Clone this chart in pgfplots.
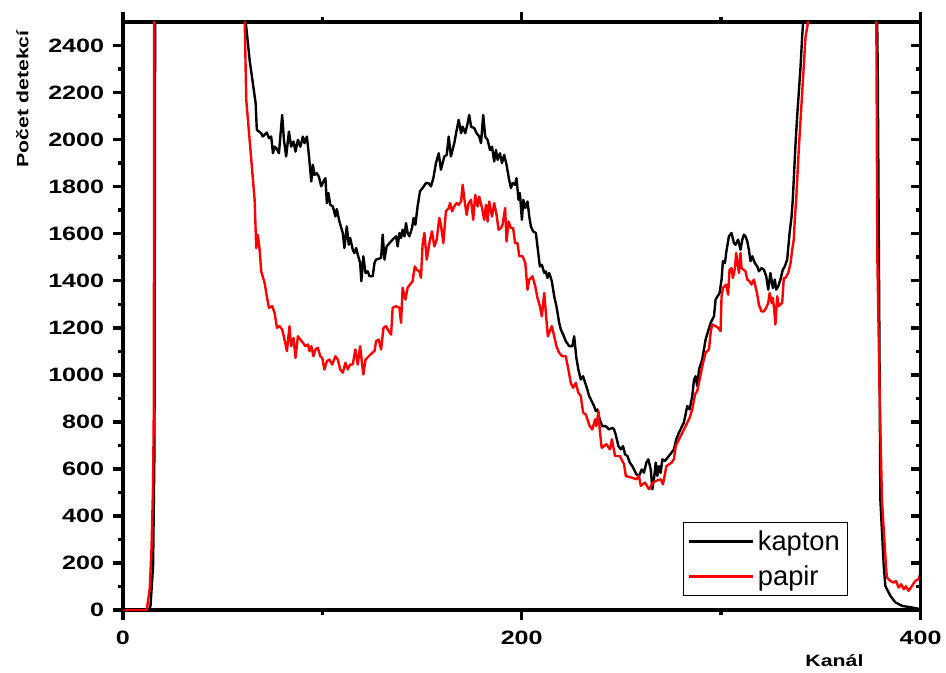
\documentclass[border=0pt]{standalone}
\usepackage{pgfplots}
\pgfplotsset{compat=1.18}
\usepackage{fontspec}
\setmainfont{Liberation Sans}
\newfontfamily\wide[FakeStretch=1.3]{Liberation Sans}

\begin{document}
\begin{tikzpicture}
\pgfplotsset{
  frame/.style={
    scale only axis,
    width=599.25pt, height=441.75pt,
    xmin=0, xmax=400, ymin=0, ymax=2500,
    xtick={0,200,400}, ytick={0,200,...,2400},
    minor x tick num=1, minor y tick num=1,
    major tick length=7.5pt, minor tick length=3.75pt,
    every tick/.style={black, line width=2.6pt},
    axis line style={line width=2.6pt},
    /pgf/number format/1000 sep={},
    /pgf/number format/assume math mode=true,
    tick label style={font=\wide\bfseries\fontsize{14.5}{17}\selectfont},
    yticklabel style={xshift=-3pt},
    xticklabel style={yshift=-5pt},
  }
}
\begin{axis}[
    frame,
    xtick pos=both, ytick pos=left,
    tick align=outside,
    xticklabel pos=lower,
    xlabel={Kanál},
    ylabel={Počet detekcí},
    label style={font=\wide\bfseries\fontsize{12.3}{14}\selectfont},
    xlabel style={at={(axis description cs:0.892,-0.085)}, anchor=center},
    ylabel style={at={(axis description cs:-0.126,0.869)}, anchor=center},
    legend cell align=left,
    legend image code/.code={\draw[#1, line width=2.4pt] (0pt,0pt) -- (48pt,0pt);},
    legend style={at={(rel axis cs:0.9086,0.0238)}, anchor=south east,
      draw=black, line width=0.8pt, font=\fontsize{20.5}{22}\selectfont,
      inner xsep=3pt, inner ysep=3.5pt, row sep=5pt, nodes={inner sep=2.5pt}},
]
\addplot[black, line width=1.8pt, line join=round] coordinates {
(0,0) (12,0) (13.2,3) (13.9,18) (15.2,190) (15.9,700) (16.3,3000) (60,3000)
(61.4,2520) (63.6,2338) (66.6,2155) (67.2,2041) (69.4,2027) (70.2,2013)
(72.2,2030) (73.3,2006) (74.4,2013) (75.3,1942) (76.1,1970) (76.9,1964)
(78.3,1942) (79.9,2105) (80.8,1999) (81.9,1928) (83.3,2034) (84.4,1970)
(85.6,1992) (86.6,1949) (87.8,1999) (89.0,1970) (90.3,2013) (91.1,1985)
(92.3,2013) (93.3,1935) (94.5,1822) (95.3,1893) (96.1,1850) (97.3,1857)
(98.3,1843) (99.5,1801) (100.6,1822) (101.6,1836) (102.3,1730) (103.1,1773)
(104.0,1723) (105.3,1716) (106.6,1673) (107.3,1705) (108.6,1652) (110.3,1603)
(111.1,1539) (112.3,1631) (113.3,1553) (114.0,1582) (115.3,1532) (116.1,1518)
(117.0,1539) (117.8,1511) (119.0,1476) (119.6,1398) (120.6,1504) (121.7,1433)
(122.8,1440) (123.7,1419) (125.3,1419) (126.2,1476) (127.0,1490) (129.5,1497)
(130.3,1596) (131.2,1490) (132.3,1546) (133.7,1560) (135.3,1575) (137.0,1589)
(137.8,1546) (138.7,1603) (139.5,1582) (140.3,1617) (141.2,1589) (142.0,1645)
(142.8,1603) (143.7,1589) (145.0,1624) (145.8,1667) (146.7,1638) (147.8,1716)
(149.0,1780) (150.3,1794) (152.0,1815) (153.4,1815) (154.5,1801) (155.7,1836)
(157.0,1900) (158.4,1942) (159.5,1872) (161.2,1928) (162.4,1935) (163.4,2013)
(164.5,1928) (166.2,1985) (167.1,2027) (168.4,2084) (169.6,2027) (170.4,2055)
(171.7,2027) (172.9,2070) (173.7,2105) (174.6,2055) (176.2,2049) (177.4,2027)
(178.7,2013) (179.6,1985) (180.7,2105) (181.7,2013) (182.9,1999) (184.1,1956)
(185.1,1970) (186.2,1907) (187.1,1956) (187.9,1914) (189.1,1942) (190.1,1900)
(191.2,1935) (192.4,1893) (193.7,1829) (194.6,1794) (195.4,1815) (196.6,1808)
(197.4,1836) (198.4,1744) (199.1,1773) (200.1,1659) (200.8,1744) (201.8,1709)
(202.9,1737) (203.8,1673) (204.6,1631) (205.7,1610) (207.1,1603) (207.9,1546)
(209.1,1461) (210.1,1468) (211.3,1433) (212.1,1440) (212.9,1412) (213.8,1433)
(215.1,1398) (216.3,1334) (217.4,1292) (218.8,1221) (219.6,1193) (220.8,1171)
(222.1,1143) (223.8,1122) (225.4,1122) (226.3,1164) (227.4,1072) (228.4,1023)
(229.6,980) (230.8,994) (231.8,966) (232.9,938) (233.8,910) (235.1,888)
(236.3,867) (237.1,846) (237.9,853) (239.1,811) (240.4,782) (242.1,782)
(243.8,768) (245.5,775) (246.3,768) (247.1,747) (248.5,697) (249.7,683)
(250.8,697) (251.8,662) (253.0,655) (254.2,627) (255.5,612) (257.5,577)
(258.8,570) (260.2,598) (261.3,584) (262.5,627) (263.5,641) (264.7,598)
(265.5,514) (266.3,556) (267.2,627) (268.0,570) (268.8,612) (269.7,584)
(270.5,641) (271.8,634) (273.8,655) (276.3,683) (277.5,726) (278.8,754)
(281.3,797) (283.0,867) (284.2,853) (285.5,910) (286.4,980) (287.2,994)
(288.0,952) (288.9,1023) (290.5,1065) (292.2,1150) (294.7,1221) (296.4,1249)
(297.2,1320) (299.2,1348) (300.2,1405) (300.9,1483) (301.9,1475) (302.5,1518)
(303.9,1589) (305.2,1603) (306.4,1560) (307.2,1553) (308.5,1575) (309.7,1532)
(310.6,1575) (311.4,1596) (312.2,1589) (313.1,1567) (313.9,1532) (314.7,1483)
(315.6,1504) (316.9,1475) (318.1,1461) (318.9,1440) (320.2,1454) (321.4,1447)
(322.6,1419) (323.6,1362) (324.7,1433) (325.9,1369) (326.9,1405) (327.6,1362)
(328.6,1376) (329.7,1405) (330.9,1447) (331.9,1461) (333.1,1490) (334.3,1603)
(335.3,1673) (335.9,1744) (337.3,1985) (338.1,2098) (339.8,2310) (340.6,2437)
(341.1,2501) (343,3000) (376,3000) (377.5,3000) (378.5,2300) (379.3,1200)
(379.8,471) (381.5,188) (382.3,103) (384.8,61) (387.3,33) (390.7,18)
(395.7,11) (399.8,4) (400,3)
};
\addlegendentry{kapton}
\addplot[red, line width=1.8pt, line join=round] coordinates {
(0,0) (12,0) (13.5,90) (14.4,260) (15.2,540) (15.6,900) (15.7,3000) (60,3000)
(61.1,2520) (61.9,2169) (66.1,1744) (66.9,1539) (67.7,1596) (68.6,1532)
(69.4,1440) (71.1,1391) (72.2,1334) (73.3,1285) (74.9,1292) (76.1,1264)
(77.3,1200) (78.6,1207) (79.9,1193) (81.1,1150) (82.3,1101) (83.6,1207)
(84.4,1122) (85.6,1157) (86.6,1072) (87.8,1164) (89.0,1150) (90.3,1136)
(91.6,1122) (92.8,1129) (93.6,1101) (94.5,1122) (95.6,1079) (96.6,1108)
(97.8,1115) (99.0,1079) (100.0,1072) (101.1,1023) (102.3,1058) (103.6,1065)
(105.0,1044) (106.6,1079) (107.8,1065) (109.0,1023) (110.3,1009) (111.6,1051)
(112.8,1023) (114.0,1044) (115.3,1044) (116.6,1108) (117.8,1044) (119.0,1122)
(120.0,1044) (120.6,1002) (121.7,1065) (123.3,1079) (125.0,1093) (126.2,1101)
(127.0,1143) (128.3,1150) (129.5,1108) (130.7,1200) (132.0,1207) (133.3,1186)
(134.5,1171) (135.3,1285) (137.0,1292) (138.7,1285) (139.5,1221) (140.3,1370)
(141.7,1320) (142.8,1370) (144.0,1384) (145.3,1398) (146.4,1461) (147.3,1447)
(148.7,1440) (149.5,1412) (150.3,1553) (151.2,1603) (152.4,1490) (153.7,1560)
(155.0,1610) (156.2,1546) (157.4,1575) (158.7,1667) (159.5,1638) (160.7,1560)
(162.0,1695) (163.4,1709) (164.1,1730) (165.1,1695) (166.2,1716) (167.4,1730)
(168.4,1723) (169.6,1737) (170.4,1808) (171.3,1744) (172.4,1680) (173.4,1730)
(174.6,1744) (175.7,1659) (176.7,1765) (177.9,1716) (178.7,1758) (180.1,1709)
(181.2,1659) (182.1,1723) (182.9,1652) (183.7,1737) (185.1,1673) (186.2,1730)
(187.4,1680) (188.4,1617) (189.6,1624) (190.4,1638) (191.7,1709) (192.4,1567)
(193.4,1652) (194.6,1624) (195.7,1624) (196.7,1560) (197.9,1560) (198.8,1504)
(200.4,1504) (201.8,1476) (202.9,1362) (203.8,1405) (205.4,1419) (206.8,1376)
(207.9,1327) (209.1,1292) (210.1,1249) (211.3,1348) (212.1,1264) (213.1,1164)
(214.1,1186) (215.1,1207) (216.3,1164) (217.4,1122) (218.8,1093) (220.4,1079)
(222.1,1079) (223.4,1023) (224.6,966) (225.8,945) (227.1,966) (228.4,924)
(229.6,910) (230.8,839) (232.1,832) (234.1,782) (235.4,768) (236.8,811)
(237.4,782) (238.5,846) (239.1,768) (240.1,690) (242.5,705) (244.2,683)
(245.2,726) (246.8,655) (249.2,655) (251.3,620) (252.2,570) (255.2,563)
(257.5,556) (258.8,570) (259.7,528) (261.8,542) (263.8,514) (265.8,542)
(267.2,549) (269.7,556) (270.8,535) (271.8,577) (272.5,612) (275.2,627)
(276.3,641) (277.2,697) (279.7,740) (282.2,782) (284.2,818) (285.5,853)
(286.9,917) (288.0,931) (289.2,980) (290.9,1051) (292.2,1094) (293.9,1108)
(294.7,1179) (295.5,1214) (297.2,1207) (298.5,1200) (299.7,1186) (300.2,1334)
(300.9,1369) (302.5,1384) (303.5,1341) (304.2,1447) (305.2,1454) (305.9,1412)
(306.9,1454) (307.5,1518) (308.0,1490) (308.9,1433) (309.7,1518) (310.2,1454)
(312.2,1440) (313.1,1405) (314.2,1398) (315.2,1384) (316.4,1405) (317.2,1376)
(318.1,1341) (318.9,1299) (320.2,1270) (321.4,1270) (322.6,1285) (323.6,1306)
(324.3,1348) (325.3,1306) (325.9,1327) (326.6,1277) (327.2,1214) (328.1,1334)
(328.9,1292) (330.6,1306) (331.4,1412) (332.3,1412) (333.6,1433) (334.8,1475)
(335.6,1532) (336.4,1575) (336.9,1659) (337.6,1744) (338.9,1956) (340.9,2240)
(342.3,2437) (343.6,2501) (345,3000) (377.3,3000) (377.8,2500) (378.3,1500)
(379.5,900) (380.6,471) (382.6,188) (383.1,139) (384.8,124) (386.5,117)
(387.6,124) (389.0,96) (390.3,110) (391.5,89) (392.6,101) (394.0,82)
(395.7,103) (397.3,124) (399.0,132) (400,160)
};
\addlegendentry{papir}
\coordinate (bl) at (rel axis cs:-0.1539,-0.10526);
\coordinate (tr) at (rel axis cs:1.0300,1.03735);
\end{axis}
\begin{axis}[
    frame,
    hide x axis,
    ytick pos=right,
    tick align=inside,
    yticklabels={},
]
\end{axis}
\path (bl) rectangle (tr);
\end{tikzpicture}
\end{document}
